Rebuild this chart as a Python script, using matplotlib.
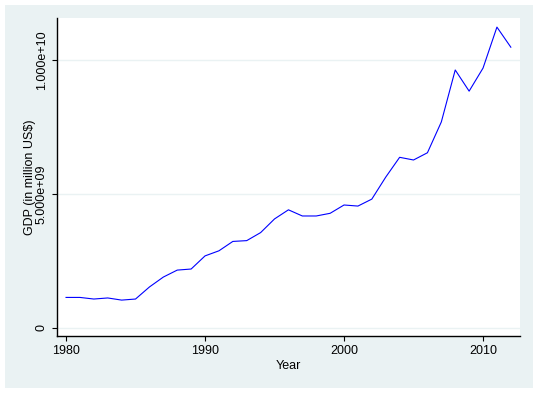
import matplotlib.pyplot as plt
from matplotlib.patches import Rectangle
from matplotlib.ticker import FuncFormatter

plt.rcParams['font.family'] = ['Liberation Sans', 'DejaVu Sans']

years = list(range(1980, 2013))
# GDP values in billions
gdp_bn = [1.14, 1.14, 1.08, 1.12, 1.04, 1.08, 1.53, 1.90, 2.16, 2.20,
          2.69, 2.88, 3.23, 3.26, 3.56, 4.07, 4.41, 4.18, 4.18, 4.28,
          4.59, 4.55, 4.81, 5.63, 6.37, 6.27, 6.54, 7.69, 9.63, 8.84,
          9.70, 11.23, 10.48]
gdp = [v * 1e9 for v in gdp_bn]

bg = '#EAF2F3'

fig = plt.figure(figsize=(5.37, 3.93), dpi=100)
fig.patches.append(Rectangle((5 / 537, 5 / 393), 528 / 537, 383 / 393,
                             transform=fig.transFigure, facecolor=bg,
                             edgecolor='none', zorder=-10))

ax = fig.add_axes([57 / 537, 1 - 336 / 393, 463 / 537, 318 / 393])
ax.set_facecolor('white')

ax.plot(years, gdp, color='blue', linewidth=0.8)

ax.set_xlim(1979.35, 2012.66)
ax.set_ylim(-0.3e9, 11.57e9)
ax.set_xticks([1980, 1990, 2000, 2010])
ax.set_yticks([0, 5e9, 1e10])
ax.yaxis.set_major_formatter(FuncFormatter(lambda v, p: '0' if v == 0 else f'{v:.3e}'))
ax.grid(axis='y', color=bg, linewidth=1.0)
ax.set_axisbelow(True)

for s in ['top', 'right']:
    ax.spines[s].set_visible(False)
for s in ['left', 'bottom']:
    ax.spines[s].set_linewidth(1.0)

ax.tick_params(axis='both', direction='out', length=3.6, width=0.8,
               labelsize=9, pad=3)
plt.setp(ax.get_yticklabels(), rotation=90, va='center')

ax.set_xlabel('Year', fontsize=9, labelpad=2)
ax.set_ylabel(r'GDP (in million US\$)', fontsize=9, labelpad=0)

fig.savefig('out.png', dpi=100, facecolor='white')
